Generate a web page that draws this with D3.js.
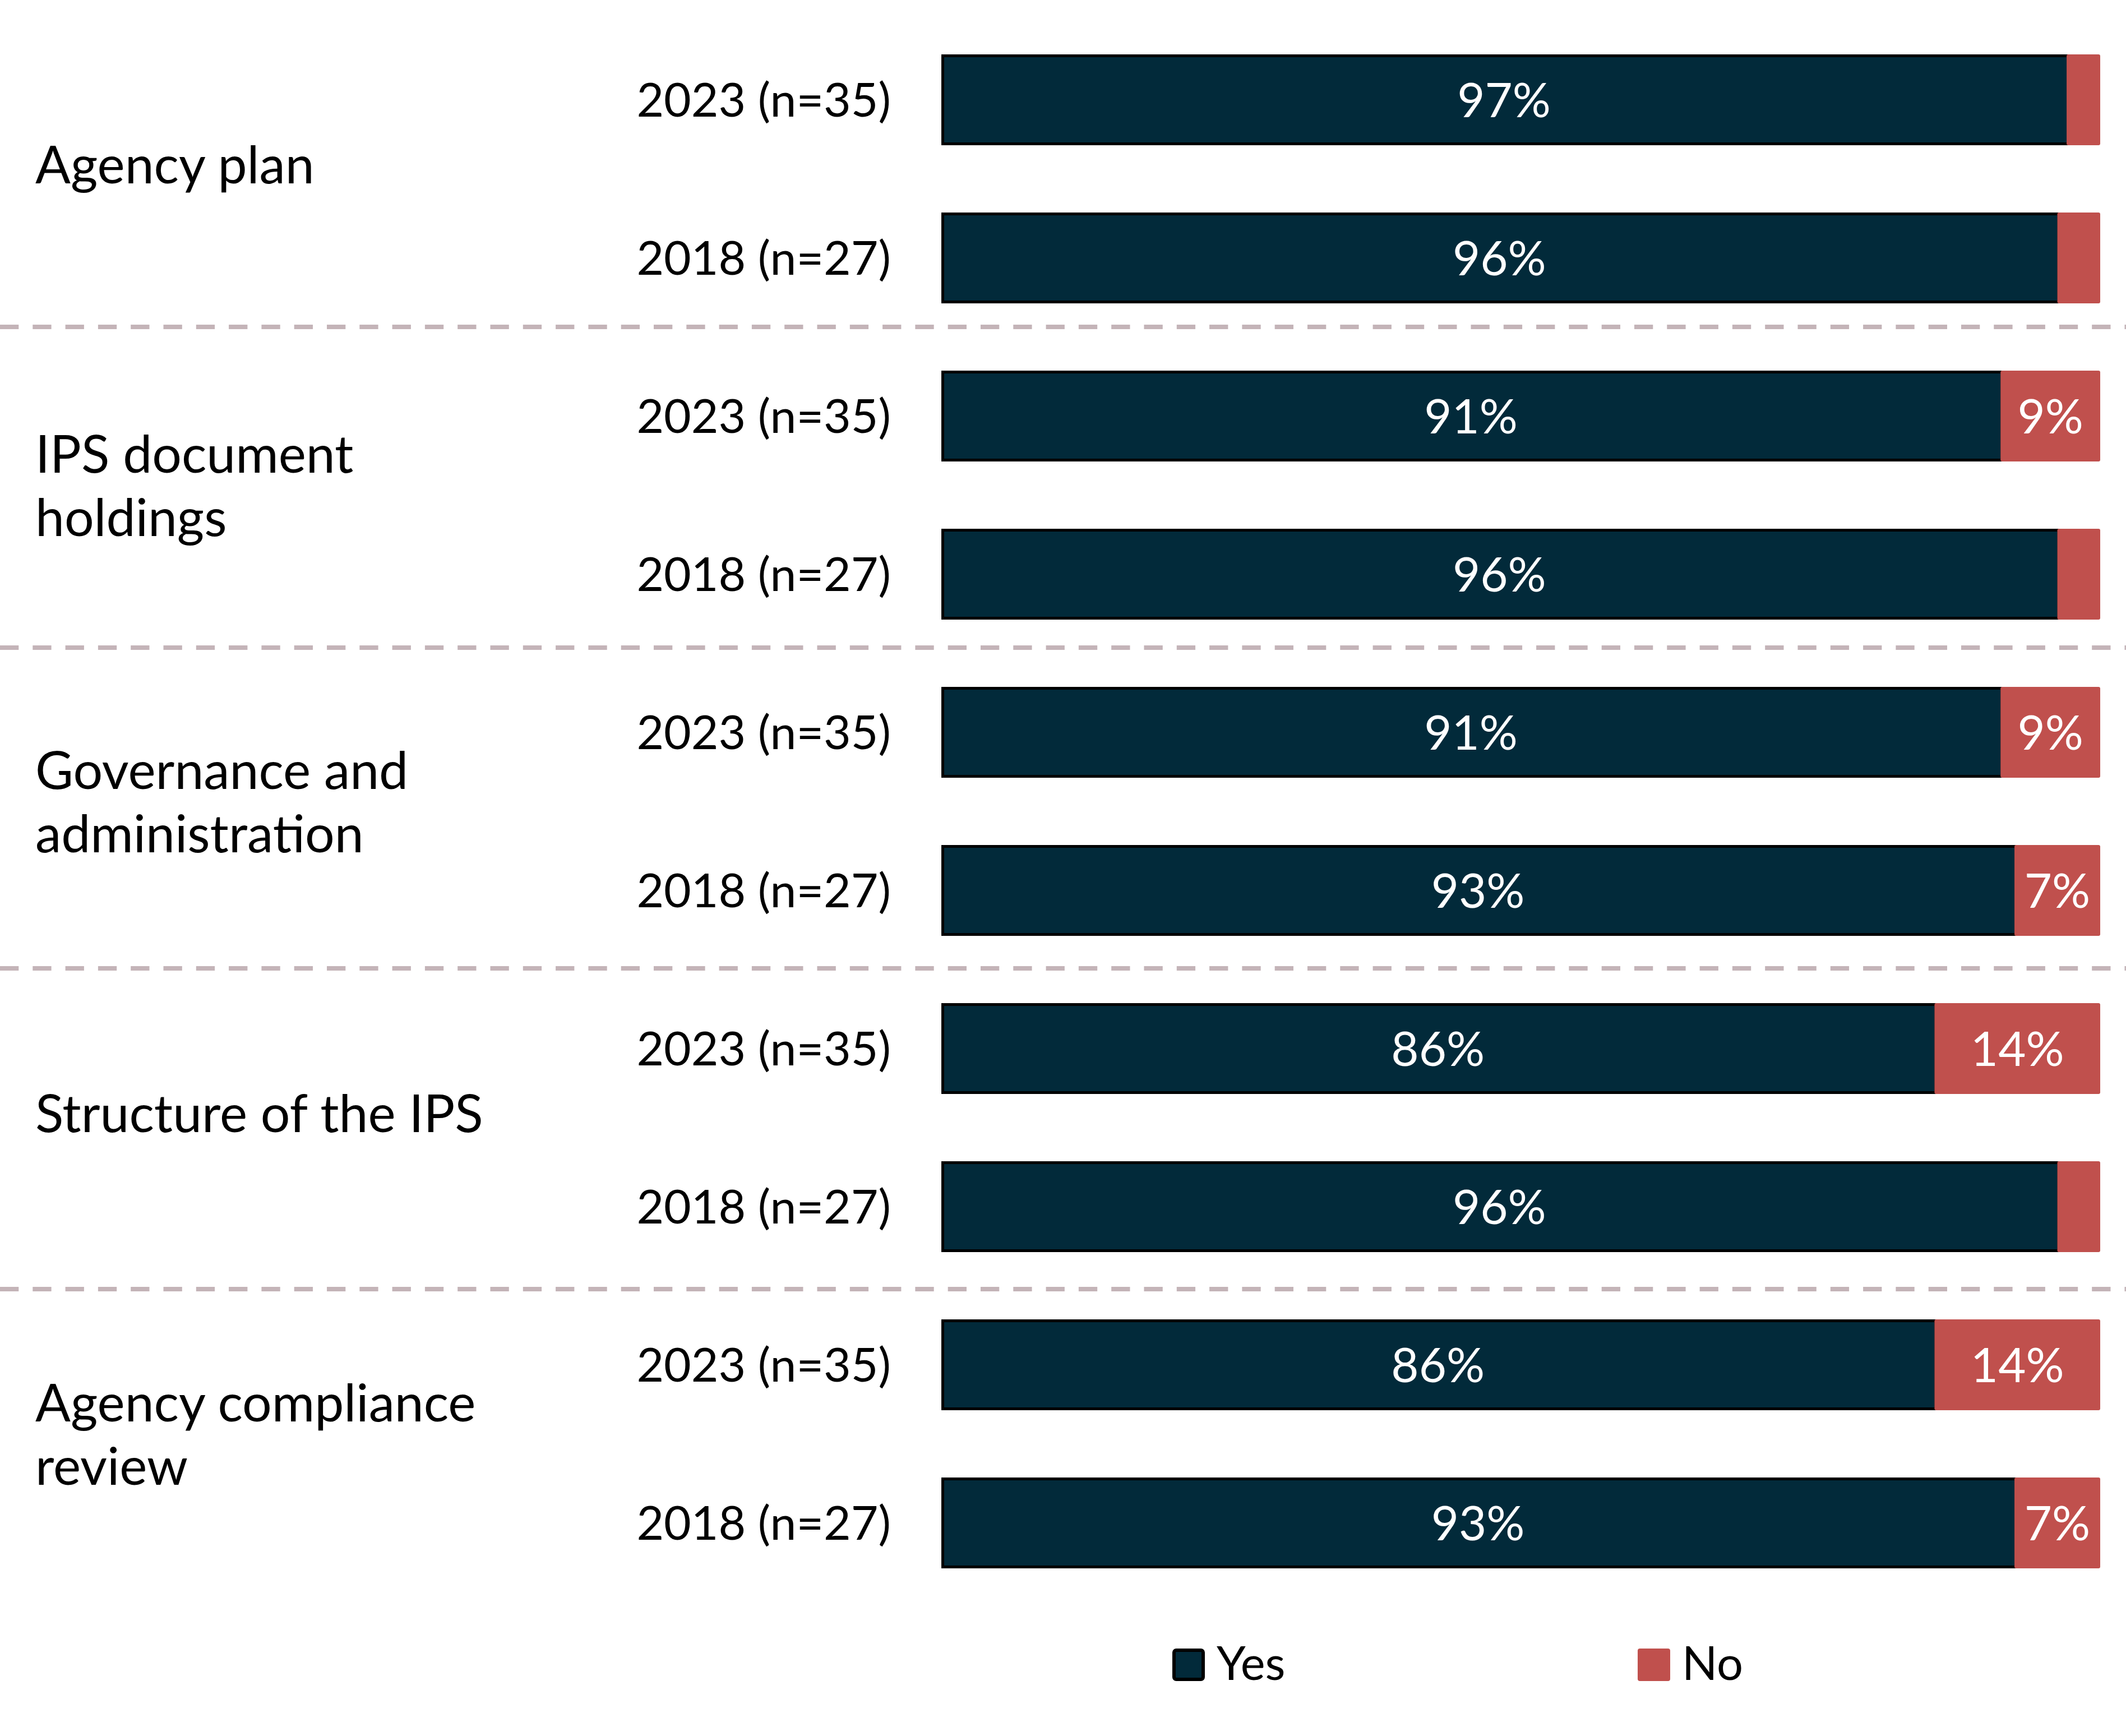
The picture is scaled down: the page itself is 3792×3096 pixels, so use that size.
<!DOCTYPE html>
<html>
<head>
<meta charset="utf-8">
<script src="https://cdn.jsdelivr.net/npm/d3@7"></script>
<style>
  html, body { margin: 0; padding: 0; background: #fff; }
  svg { display: block; font-family: Lato, "Noto Sans", sans-serif; }
</style>
</head>
<body>
<svg id="chart"></svg>
<script>
// categories (each group has a 2023 and a 2018 row)
const groupLabels = [
    ['Agency plan'],
    ['IPS document', 'holdings'],
    ['Governance and', 'administration'],
    ['Structure of the IPS'],
    ['Agency compliance', 'review']
];
const rowLabels = ['2023 (n=35)', '2018 (n=27)'];

// series values, % of agencies, one per row (group order, 2023 then 2018)
const yesValues = [97.1, 96.3, 91.4, 96.3, 91.4, 92.6, 85.7, 96.3, 85.7, 92.6];
const noValues  = [2.9, 3.7, 8.6, 3.7, 8.6, 7.4, 14.3, 3.7, 14.3, 7.4];

const seriesNames = ['Yes', 'No'];
const seriesColors = ['#022A3A', '#C0504D'];

const W = 3792, H = 3096;
const BAR_LEFT = 1679, BAR_RIGHT = 3746;
const TOP = 97, BOTTOM = 2797;
const MIN_LABEL = 5; // don't label tiny "No" slices

const rows = [];
groupLabels.forEach((g, gi) => {
    rowLabels.forEach((r, ri) => {
        const i = gi * rowLabels.length + ri;
        rows.push({ id: i, group: gi, label: r, yes: yesValues[i], no: noValues[i] });
    });
});

const svg = d3.select('#chart').attr('width', W).attr('height', H).attr('viewBox', [0, 0, W, H]);

const x = d3.scaleLinear().domain([0, 100]).range([BAR_LEFT, BAR_RIGHT]);
const y = d3.scaleBand().domain(rows.map(d => d.id)).range([TOP, BOTTOM])
    .paddingInner(0.4255).paddingOuter(0);
// group panels, separators sit on their edges
const panel = d3.scaleBand().domain(d3.range(groupLabels.length)).range([11, 2871]);
const color = d3.scaleOrdinal().domain(seriesNames).range(seriesColors);
const bw = y.bandwidth();

// separators between groups
const seps = d3.range(1, groupLabels.length).map(gi => panel(gi));
svg.append('g').selectAll('line').data(seps).join('line')
    .attr('x1', 0).attr('x2', W)
    .attr('y1', d => d).attr('y2', d => d)
    .attr('stroke', '#C4B4B8').attr('stroke-width', 8)
    .attr('stroke-dasharray', '33.3 25');

// group labels
svg.append('g').selectAll('text').data(groupLabels).join('text')
    .attr('font-size', 93).attr('fill', '#000')
    .each(function(lines, gi) {
        const c = (y(gi * 2) + y(gi * 2 + 1) + bw) / 2;
        const first = c + 8 - 48 * (lines.length - 1);
        d3.select(this).selectAll('tspan').data(lines).join('tspan')
            .attr('x', 63)
            .attr('y', (l, li) => first + li * 113)
            .text(l => l);
    });

// row labels
svg.append('g').selectAll('text').data(rows).join('text')
    .attr('x', 1589)
    .attr('y', d => y(d.id) + bw / 2 + 30)
    .attr('text-anchor', 'end')
    .attr('font-size', 84).attr('fill', '#000')
    .text(d => d.label);

// bars
const bars = svg.append('g');
bars.selectAll('rect.yes').data(rows).join('rect')
    .attr('class', 'yes')
    .attr('x', x(0) + 2.5)
    .attr('y', d => y(d.id) + 2.5)
    .attr('width', d => x(d.yes) - x(0))
    .attr('height', bw - 5)
    .attr('fill', color('Yes'))
    .attr('stroke', '#000').attr('stroke-width', 5);

bars.selectAll('rect.no').data(rows).join('rect')
    .attr('class', 'no')
    .attr('x', d => x(d.yes))
    .attr('y', d => y(d.id))
    .attr('width', d => x(d.yes + d.no) - x(d.yes))
    .attr('height', bw)
    .attr('rx', 3)
    .attr('fill', color('No'));

// value labels
const vals = svg.append('g').attr('fill', '#fff').attr('font-size', 85).attr('text-anchor', 'middle');
vals.selectAll('text.yes').data(rows).join('text')
    .attr('class', 'yes')
    .attr('x', d => (x(0) + x(d.yes)) / 2)
    .attr('y', d => y(d.id) + bw / 2 + 31)
    .text(d => Math.round(d.yes) + '%');
vals.selectAll('text.no').data(rows.filter(d => d.no >= MIN_LABEL)).join('text')
    .attr('class', 'no')
    .attr('x', d => (x(d.yes) + x(d.yes + d.no)) / 2)
    .attr('y', d => y(d.id) + bw / 2 + 31)
    .text(d => Math.round(d.no) + '%');

// legend
const lx = d3.scalePoint().domain(seriesNames).range([2091, 2921]);
const leg = svg.append('g').selectAll('g').data(seriesNames).join('g')
    .attr('transform', d => `translate(${lx(d)},2940)`);
leg.append('rect')
    .attr('x', d => d === 'Yes' ? 3 : 0)
    .attr('y', d => d === 'Yes' ? 3 : 0)
    .attr('width', d => d === 'Yes' ? 52 : 58)
    .attr('height', d => d === 'Yes' ? 52 : 58)
    .attr('rx', 4)
    .attr('fill', d => color(d))
    .attr('stroke', d => d === 'Yes' ? '#000' : 'none')
    .attr('stroke-width', 6);
leg.append('text')
    .attr('x', 79).attr('y', 56)
    .attr('font-size', 83).attr('fill', '#000')
    .text(d => d);
</script>
</body>
</html>
